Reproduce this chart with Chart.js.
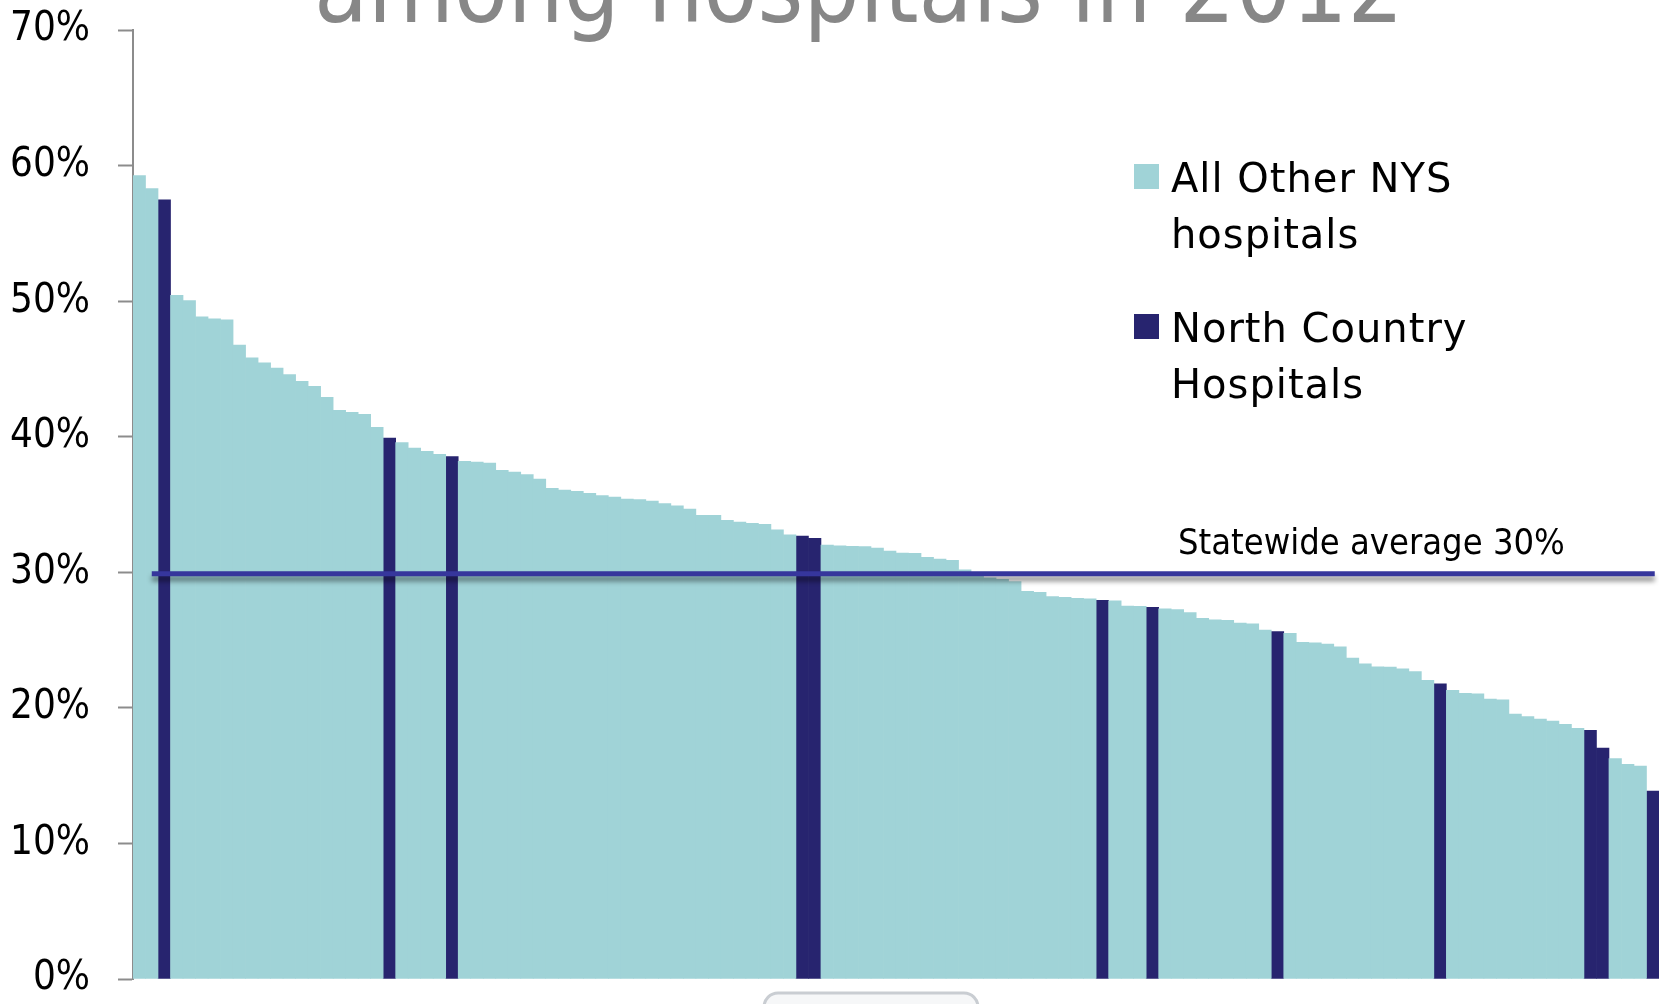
<!DOCTYPE html>
<html lang="en">
<head>
    <meta charset="UTF-8">
    <title>Readmission rates among hospitals in 2012</title>
    <script src="https://cdn.jsdelivr.net/npm/chart.js"></script>
    <style>
        body {
            margin: 0;
            background: #fff;
            overflow: hidden;
        }
        #wrap {
            width: 1659px;
            height: 1004px;
            position: relative;
        }
    </style>
</head>
<body>
    <div id="wrap">
        <canvas id="chart" width="1659" height="1004"></canvas>
    </div>

    <script>
        // hospital rates, ranked high to low (percent)
        const rates = [
            59.26, 58.3, 57.47, 50.42, 50.05, 48.85, 48.7, 48.62, 46.76, 45.82,
            45.45, 45.06, 44.59, 44.08, 43.71, 42.9, 41.94, 41.8, 41.65, 40.69,
            39.9, 39.56, 39.16, 38.92, 38.7, 38.53, 38.18, 38.13, 38.06, 37.52,
            37.4, 37.2, 36.88, 36.2, 36.07, 35.97, 35.82, 35.65, 35.55, 35.4,
            35.36, 35.26, 35.06, 34.91, 34.67, 34.2, 34.2, 33.83, 33.71, 33.61,
            33.54, 33.14, 32.77, 32.67, 32.5, 32.01, 31.96, 31.91, 31.89, 31.79,
            31.57, 31.42, 31.4, 31.1, 30.98, 30.88, 30.19, 29.85, 29.6, 29.48,
            29.31, 28.6, 28.52, 28.2, 28.15, 28.08, 28.05, 27.93, 27.9, 27.51,
            27.48, 27.42, 27.3, 27.25, 27.02, 26.6, 26.5, 26.45, 26.25, 26.2,
            25.74, 25.62, 25.5, 24.83, 24.8, 24.71, 24.51, 23.68, 23.24, 23.03,
            23.0, 22.87, 22.67, 22.03, 21.78, 21.29, 21.07, 21.03, 20.65, 20.6,
            19.55, 19.35, 19.18, 19.03, 18.79, 18.49, 18.35, 17.04, 16.25, 15.84,
            15.71, 13.87
        ];
        // positions (0-based) of the North Country hospitals in the ranking
        const northCountryRanks = [2, 20, 25, 53, 54, 77, 81, 91, 104, 116, 117, 121];
        const statewideAvg = 29.9;
        const seriesNames = ['All Other NYS hospitals', 'North Country Hospitals'];
        const legendLines = [['All Other NYS', 'hospitals'], ['North Country', 'Hospitals']];
        const yTicks = [0, 10, 20, 30, 40, 50, 60, 70];

        const TEAL = '#a0d3d7';
        const NAVY = '#27246f';

        const labels = rates.map((_, i) => 'H' + (i + 1));
        const otherData = rates.map((v, i) => northCountryRanks.includes(i) ? null : v);
        const ncData = rates.map((v, i) => northCountryRanks.includes(i) ? v : null);

        // title, average line, its label, legend and the slide bar at the bottom
        const decorations = {
            id: 'decorations',
            afterDatasetsDraw(chart) {
                const ctx = chart.ctx;
                const x = chart.scales.x, y = chart.scales.y;
                const ly = y.getPixelForValue(statewideAvg);
                const x0 = x.getPixelForValue(1);
                const x1 = x.getPixelForValue(rates.length - 1) + 2;

                ctx.save();
                ctx.shadowColor = 'rgba(0,0,0,0.45)';
                ctx.shadowBlur = 5;
                ctx.shadowOffsetY = 5;
                ctx.strokeStyle = '#36369c';
                ctx.lineWidth = 5;
                ctx.beginPath();
                ctx.moveTo(x0, ly);
                ctx.lineTo(x1, ly);
                ctx.stroke();
                ctx.restore();

                ctx.save();
                ctx.fillStyle = '#000';
                ctx.font = '36px "DejaVu Sans Condensed", "DejaVu Sans"';
                ctx.textBaseline = 'alphabetic';
                ctx.fillText('Statewide average ' + Math.round(statewideAvg) + '%', 1178, ly - 20);
                ctx.restore();
            },
            afterDraw(chart) {
                const ctx = chart.ctx;
                ctx.save();
                // title (cut off at the top of the slide)
                ctx.fillStyle = '#878787';
                ctx.font = '98px "DejaVu Sans Condensed", "DejaVu Sans"';
                ctx.textBaseline = 'alphabetic';
                ctx.fillText('among hospitals in 2012', 314, 22);

                // legend
                const colors = [TEAL, NAVY];
                const tops = [164, 314];
                ctx.font = '40px "DejaVu Sans"';
                ctx.letterSpacing = '1px';
                legendLines.forEach((lines, k) => {
                    ctx.fillStyle = colors[k];
                    ctx.fillRect(1134, tops[k], 25, 25);
                    ctx.fillStyle = '#000';
                    lines.forEach((t, j) => {
                        ctx.fillText(t, 1171, tops[k] + 28 + j * 56);
                    });
                });
                ctx.letterSpacing = '0px';

                // slide control bar peeking in at the bottom
                ctx.beginPath();
                ctx.roundRect(764, 993, 214, 40, 14);
                ctx.fillStyle = '#f6f7f8';
                ctx.fill();
                ctx.lineWidth = 3;
                ctx.strokeStyle = '#c9cdd2';
                ctx.stroke();
                ctx.restore();
            }
        };

        new Chart(document.getElementById('chart'), {
            type: 'bar',
            data: {
                labels: labels,
                datasets: [
                    {
                        label: seriesNames[0],
                        data: otherData,
                        backgroundColor: TEAL,
                        borderWidth: 0
                    },
                    {
                        label: seriesNames[1],
                        data: ncData,
                        backgroundColor: NAVY,
                        borderWidth: 0
                    }
                ]
            },
            options: {
                responsive: false,
                animation: false,
                devicePixelRatio: 1,
                datasets: {
                    bar: { categoryPercentage: 1, barPercentage: 1 }
                },
                layout: { padding: { top: 30, bottom: 25, left: 0, right: 0 } },
                plugins: {
                    legend: { display: false },
                    tooltip: { enabled: false },
                    title: { display: false }
                },
                scales: {
                    x: {
                        stacked: true,
                        display: false
                    },
                    y: {
                        min: 0,
                        max: 70,
                        afterFit: (scale) => {
                            scale.width = 133;
                            scale.paddingTop = 0;
                            scale.paddingBottom = 0;
                        },
                        afterBuildTicks: (scale) => { scale.ticks = yTicks.map(v => ({ value: v })); },
                        border: { color: '#8c8c8c', width: 2 },
                        grid: {
                            drawOnChartArea: false,
                            drawTicks: true,
                            tickLength: 15,
                            tickColor: '#8c8c8c',
                            tickWidth: 2
                        },
                        ticks: {
                            color: '#000',
                            padding: 28,
                            font: { family: '"DejaVu Sans Condensed", "DejaVu Sans"', size: 40 },
                            callback: (v) => v + '%'
                        }
                    }
                }
            },
            plugins: [decorations]
        });
    </script>
</body>
</html>
